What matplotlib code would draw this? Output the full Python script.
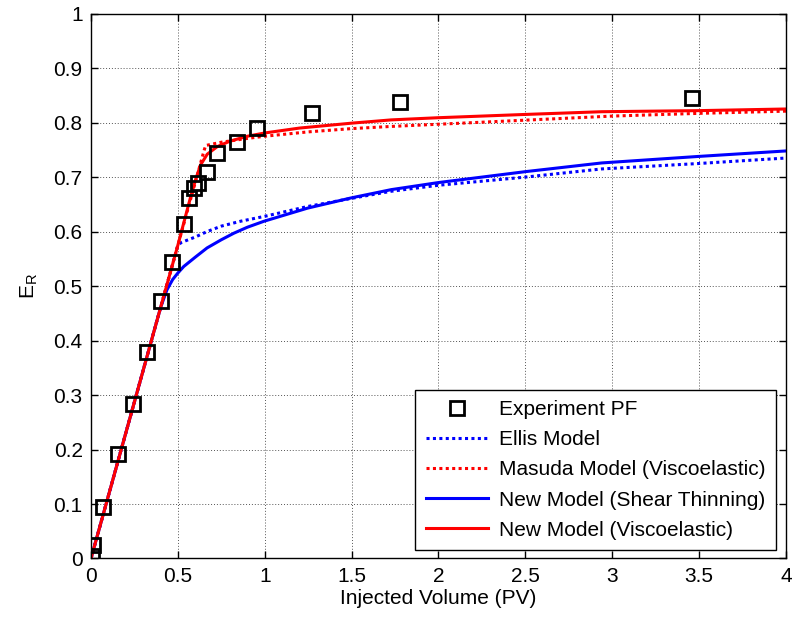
import numpy as np
import matplotlib
matplotlib.use("Agg")
import matplotlib.pyplot as plt

plt.rcParams['font.family'] = ['Liberation Sans', 'DejaVu Sans']
plt.rcParams['font.size'] = 15

# experiment PF
exp_x = [0.004, 0.013, 0.067, 0.154, 0.239, 0.322, 0.405, 0.466, 0.534, 0.563,
         0.591, 0.617, 0.665, 0.727, 0.838, 0.958, 1.272, 1.78, 3.46]
exp_y = [0.005, 0.025, 0.094, 0.192, 0.284, 0.379, 0.473, 0.545, 0.614, 0.662,
         0.680, 0.690, 0.710, 0.744, 0.764, 0.791, 0.818, 0.837, 0.846]

# Ellis model
ellis_x = [0.0, 0.1, 0.2, 0.3, 0.4, 0.5, 0.52, 0.56, 0.6, 0.668, 0.75, 0.861, 1.0,
           1.246, 1.5, 1.728, 2.0, 2.5, 2.94, 3.5, 4.0]
ellis_y = [0.0, 0.115, 0.23, 0.345, 0.46, 0.575, 0.58, 0.585, 0.59, 0.600, 0.610,
           0.619, 0.628, 0.646, 0.661, 0.674, 0.685, 0.700, 0.715, 0.725, 0.735]

# Masuda model (viscoelastic)
masuda_x = [0.0, 0.1, 0.2, 0.3, 0.4, 0.5, 0.6, 0.65, 0.66, 0.75, 0.9, 1.0, 1.25,
            1.5, 1.728, 2.2, 2.6, 3.0, 3.5, 4.0]
masuda_y = [0.0, 0.115, 0.23, 0.345, 0.46, 0.575, 0.69, 0.748, 0.758, 0.764, 0.771,
            0.775, 0.783, 0.789, 0.793, 0.800, 0.806, 0.812, 0.817, 0.821]

# new model (shear thinning)
shear_x = [0.0, 0.1, 0.2, 0.3, 0.4, 0.42, 0.437, 0.47, 0.5, 0.534, 0.6, 0.668,
           0.75, 0.822, 0.9, 0.996, 1.246, 1.5, 1.728, 2.0, 2.5, 2.94, 3.5, 4.0]
shear_y = [0.0, 0.115, 0.23, 0.345, 0.46, 0.478, 0.493, 0.512, 0.524, 0.536, 0.553,
           0.570, 0.585, 0.597, 0.608, 0.619, 0.643, 0.662, 0.677, 0.690, 0.710,
           0.726, 0.738, 0.748]

# new model (viscoelastic)
visco_x = [0.0, 0.1, 0.2, 0.3, 0.4, 0.5, 0.572, 0.6, 0.63, 0.669, 0.727, 0.8,
           0.9, 1.0, 1.2, 1.5, 1.728, 2.0, 2.5, 2.94, 3.5, 4.0]
visco_y = [0.0, 0.115, 0.23, 0.345, 0.46, 0.575, 0.662, 0.693, 0.722, 0.742,
           0.756, 0.766, 0.775, 0.781, 0.790, 0.799, 0.805, 0.809, 0.815, 0.820,
           0.822, 0.825]

fig = plt.figure(figsize=(7.92, 6.2), dpi=100)
ax = fig.add_axes([0.1149, 0.0992, 0.9924 - 0.1149, 0.978 - 0.0992])

lw = 2.2
ax.plot(exp_x, exp_y, 's', mfc='none', mec='black', mew=2.0, ms=9.5,
        label='Experiment PF', zorder=5)
ax.plot(ellis_x, ellis_y, color='blue', lw=lw, ls=(0, (1, 1.1)),
        label='Ellis Model')
ax.plot(masuda_x, masuda_y, color='red', lw=lw, ls=(0, (1, 1.1)),
        label='Masuda Model (Viscoelastic)')
ax.plot(shear_x, shear_y, color='blue', lw=lw,
        label='New Model (Shear Thinning)')
ax.plot(visco_x, visco_y, color='red', lw=lw,
        label='New Model (Viscoelastic)')

ax.set_xlim(0, 4)
ax.set_ylim(0, 1)
ax.set_xticks(np.arange(0, 4.01, 0.5))
ax.set_xticklabels(['0', '0.5', '1', '1.5', '2', '2.5', '3', '3.5', '4'])
ax.set_yticks(np.arange(0, 1.01, 0.1))
ax.set_yticklabels(['0', '0.1', '0.2', '0.3', '0.4', '0.5', '0.6', '0.7',
                    '0.8', '0.9', '1'])
ax.tick_params(direction='in', length=5, width=1, top=True, right=True,
               labelsize=15, pad=6)
ax.grid(True, color='#555555', ls=(0, (1, 2)), lw=0.7)
for s in ax.spines.values():
    s.set_linewidth(1.0)

ax.set_xlabel('Injected Volume (PV)', labelpad=2)
ax.set_ylabel('E$_\\mathregular{R}$', labelpad=10)

leg = ax.legend(loc='lower right', bbox_to_anchor=(0.9856, 0.0156),
                fancybox=False, edgecolor='black', framealpha=1,
                handlelength=3.0, labelspacing=0.53, borderpad=0.5,
                handletextpad=0.53, borderaxespad=0)
leg.get_frame().set_linewidth(1.0)

fig.savefig('out.png', dpi=100)
